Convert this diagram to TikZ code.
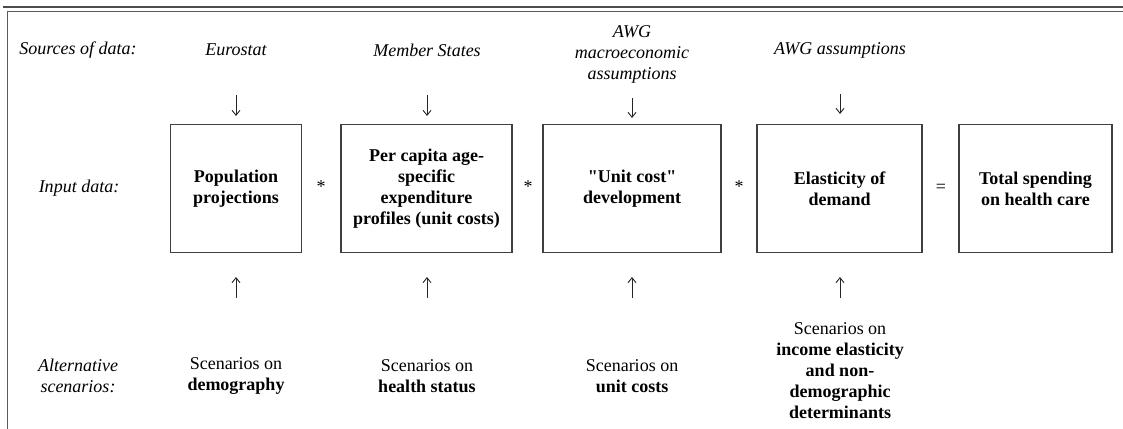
\documentclass[tikz,border=0pt]{standalone}
\usepackage{fontspec}
\setmainfont{Liberation Serif}
\usetikzlibrary{arrows.meta}
\begin{document}
\begin{tikzpicture}[x=1pt,y=-1pt,
  every node/.style={font=\fontsize{18}{21}\selectfont},
  lab/.style={align=center, inner sep=0pt, font=\fontsize{18}{21}\selectfont\itshape},
  sc/.style={align=center, inner sep=0pt, font=\fontsize{18}{21}\selectfont},
  box/.style={draw=black!75, line width=1.1pt, align=center, inner sep=0pt,
    minimum height=128pt, font=\fontsize{18}{21}\selectfont\bfseries},
  op/.style={inner sep=0pt, font=\fontsize{18}{21}\selectfont},
  arr/.style={draw=black!85, line width=0.9pt, -{Straight Barb[length=5pt,width=8pt]}},
  frame/.style={draw=black!65, line width=1.5pt}
]
\useasboundingbox (0,0) rectangle (1123,428);

% outer frame
\draw[draw=black!70, line width=1.1pt] (3,7) -- (1130,7);
\draw[frame] (7.5,11.5) rectangle (1135,440);

% row labels
\node[lab] (srclab) at (78,50) {Sources of data:};
\node[lab] (inlab) at (79,188) {Input data:};
\node[lab] (altlab) at (78,376) {Alternative\\scenarios:};

% sources
\node[lab] (src1) at (236,50) {Eurostat};
\node[lab] (src2) at (427,50) {Member States};
\node[lab] (src3) at (632,54.5) {AWG\\macroeconomic\\assumptions};
\node[lab] (src4) at (840,50) {AWG assumptions};

% boxes
\node[box, minimum width=131pt] (b1) at (236,188.5) {Population\\projections};
\node[box, minimum width=171pt] (b2) at (426.5,188.5) {Per capita age-\\specific\\expenditure\\profiles (unit costs)};
\node[box, minimum width=178pt] (b3) at (632,188.5) {{\addfontfeature{Ligatures=TeXOff}"Unit cost"}\\development};
\node[box, minimum width=165pt] (b4) at (839.5,188.5) {Elasticity of\\demand};
\node[box, minimum width=153pt] (b5) at (1035.5,188.5) {Total spending\\on health care};

% operators
\node[op] (op1) at (321,187) {*};
\node[op] (op2) at (528,187) {*};
\node[op] (op3) at (739,187) {*};
\node[op] (op4) at (941,188) {=};

% scenarios
\node[sc] (s1) at (236,376) {Scenarios on\\\textbf{demography}};
\node[sc] (s2) at (427,376) {Scenarios on\\\textbf{health status}};
\node[sc] (s3) at (632,376) {Scenarios on\\\textbf{unit costs}};
\node[sc] (s4) at (840,370.5) {Scenarios on\\\textbf{income elasticity}\\\textbf{and non-}\\\textbf{demographic}\\\textbf{determinants}};

% arrow end points
\coordinate (d1a) at (236,95);  \coordinate (d1b) at (236,116);
\coordinate (d2a) at (427,95);  \coordinate (d2b) at (427,116);
\coordinate (d3a) at (632,98);  \coordinate (d3b) at (632,118);
\coordinate (d4a) at (840,94);  \coordinate (d4b) at (840,114);
\coordinate (u1a) at (236,298); \coordinate (u1b) at (236,277);
\coordinate (u2a) at (427,298); \coordinate (u2b) at (427,277);
\coordinate (u3a) at (632,298); \coordinate (u3b) at (632,277);
\coordinate (u4a) at (840,298); \coordinate (u4b) at (840,277);

\draw[arr] (d1a) -- (d1b);
\draw[arr] (d2a) -- (d2b);
\draw[arr] (d3a) -- (d3b);
\draw[arr] (d4a) -- (d4b);
\draw[arr] (u1a) -- (u1b);
\draw[arr] (u2a) -- (u2b);
\draw[arr] (u3a) -- (u3b);
\draw[arr] (u4a) -- (u4b);
\end{tikzpicture}
\end{document}
